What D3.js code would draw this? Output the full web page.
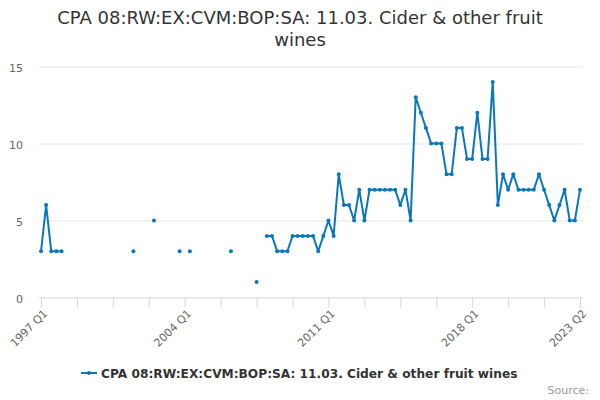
<!DOCTYPE html>
<html>
<head>
<meta charset="utf-8">
<script src="https://cdn.jsdelivr.net/npm/d3@7"></script>
<style>
  body { margin: 0; background: #fff; }
  svg { display: block; font-family: "DejaVu Sans", sans-serif; }
</style>
</head>
<body>
<svg width="600" height="400"></svg>
<script>
// quarters 1997 Q1 .. 2023 Q2
const startYear = 1997;
const quarterCount = 106;
const seriesName = "CPA 08:RW:EX:CVM:BOP:SA: 11.03. Cider & other fruit wines";
const titleLines = ["CPA 08:RW:EX:CVM:BOP:SA: 11.03. Cider & other fruit", "wines"];
const values = [
  3, 6, 3, 3, 3, null, null, null, null, null, null, null, null, null, null, null, null, null, 3, null,
  null, null, 5, null, null, null, null, 3, null, 3, null, null, null, null, null, null, null, 3, null, null,
  null, null, 1, null, 4, 4, 3, 3, 3, 4, 4, 4, 4, 4, 3, 4, 5, 4, 8, 6,
  6, 5, 7, 5, 7, 7, 7, 7, 7, 7, 6, 7, 5, 13, 12, 11, 10, 10, 10, 8,
  8, 11, 11, 9, 9, 12, 9, 9, 14, 6, 8, 7, 8, 7, 7, 7, 7, 8, 7, 6,
  5, 6, 7, 5, 5, 7
];
const yTicks = [0, 5, 10, 15];
const labelIndexes = [0, 28, 56, 84, 105];

const color = "#0a77bd";

function quarterLabel(i) {
  return (startYear + Math.floor(i / 4)) + " Q" + (i % 4 + 1);
}

const svg = d3.select("svg");
const plotLeft = 41, plotRight = 580, plotTop = 66.5, plotBottom = 297.5;

const x = d3.scaleLinear().domain([0, quarterCount - 1]).range([plotLeft, plotRight]);
const y = d3.scaleLinear().domain([0, 15]).range([plotBottom, plotTop]);

// title
svg.append("text")
  .attr("x", 300).attr("y", 24)
  .attr("text-anchor", "middle")
  .style("font-size", "18px").style("fill", "#333")
  .selectAll("tspan").data(titleLines).join("tspan")
  .attr("x", 300).attr("dy", (d, i) => i ? 22 : 0)
  .text(d => d);

// grid + y labels
const yAxis = svg.append("g")
  .attr("transform", `translate(${plotLeft - 2},0)`)
  .call(d3.axisLeft(y).tickValues(yTicks).tickSize(-(plotRight + 3 - plotLeft + 2)).tickPadding(16));
yAxis.select(".domain").remove();
yAxis.selectAll(".tick line").attr("stroke", "#e6e6e6");
yAxis.selectAll(".tick text")
  .attr("dy", "0.45em")
  .style("font-size", "11px").style("fill", "#666")
  .style("font-family", "DejaVu Sans, sans-serif");
yAxis.selectAll(".tick").filter(d => d === 0).select("line").remove();

// x axis
const xTickVals = d3.range(0, quarterCount, 7);
const xAxis = svg.append("g")
  .attr("transform", `translate(0,${plotBottom})`)
  .call(d3.axisBottom(x).tickValues(xTickVals).tickSize(10)
    .tickFormat(d => labelIndexes.includes(d) ? quarterLabel(d) : ""));
xAxis.select(".domain").attr("d", `M${plotLeft - 2},0.5H${plotRight + 3}`).attr("stroke", "#ccd6eb");
xAxis.selectAll(".tick line").attr("stroke", "#ccd6eb");
xAxis.selectAll(".tick text")
  .attr("text-anchor", "end")
  .attr("transform", "translate(4,14) rotate(-45)")
  .attr("y", 0).attr("dy", "0.35em")
  .style("font-size", "11px").style("fill", "#666")
  .style("font-family", "DejaVu Sans, sans-serif");

// line
const line = d3.line()
  .defined(d => d !== null)
  .x((d, i) => x(i))
  .y(d => y(d));
svg.append("path")
  .attr("d", line(values))
  .attr("fill", "none")
  .attr("stroke", color)
  .attr("stroke-width", 2)
  .attr("stroke-linejoin", "round");

svg.append("g").selectAll("circle")
  .data(values.map((v, i) => ({ v, i })).filter(d => d.v !== null))
  .join("circle")
  .attr("cx", d => x(d.i))
  .attr("cy", d => y(d.v))
  .attr("r", 2)
  .attr("fill", color);

// legend
const lg = svg.append("g").attr("transform", "translate(81,373)");
lg.append("line").attr("x1", 0).attr("x2", 16).attr("y1", 0).attr("y2", 0)
  .attr("stroke", color).attr("stroke-width", 2);
lg.append("circle").attr("cx", 8).attr("cy", 0).attr("r", 2).attr("fill", color);
lg.append("text").attr("x", 20).attr("y", 4.5)
  .style("font-size", "12.2px").style("font-weight", "bold").style("fill", "#333")
  .text(seriesName);

// source
svg.append("text").attr("x", 589).attr("y", 394)
  .attr("text-anchor", "end")
  .style("font-size", "11px").style("fill", "#999")
  .text("Source:");
</script>
</body>
</html>
